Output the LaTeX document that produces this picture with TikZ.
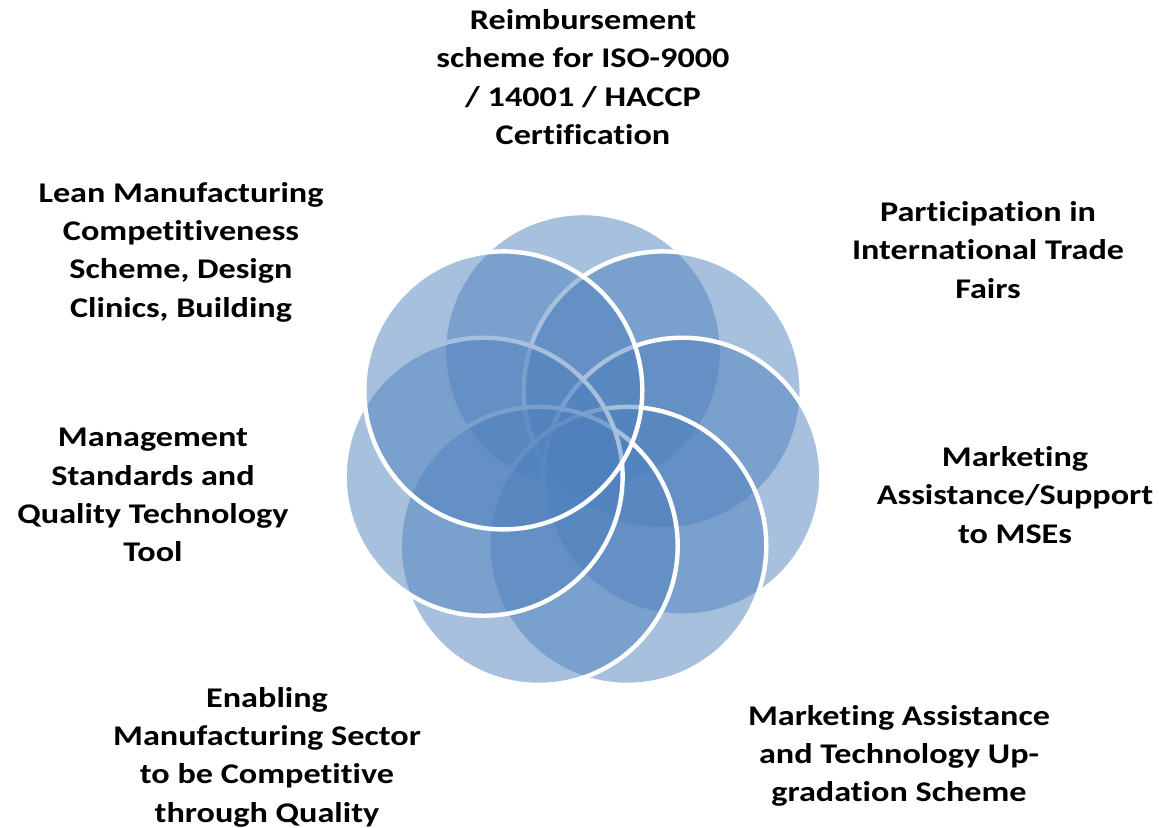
\documentclass[tikz,border=0pt]{standalone}
\usepackage[dvipsnames]{xcolor}
\usepackage{fontspec}
\setmainfont{Carlito}[FakeStretch=1.2, Ligatures=NoCommon]
\definecolor{petalblue}{HTML}{4F81BD}

\begin{document}
\begin{tikzpicture}[x=0.5pt, y=-0.5pt,
  every node/.style={font=\bfseries\fontsize{14.25}{19.15}\selectfont, align=center},
  petal/.style={circle, minimum size=139pt, inner sep=0pt,
    fill=petalblue, fill opacity=0.5, draw=white, line width=2.2pt}]
\useasboundingbox (0,0) rectangle (1159,827);
\node[petal] (A) at (583, 352) {};
\node[petal] (C) at (662.7, 390.4) {};
\node[petal] (D) at (682.4, 476.7) {};
\node[petal] (E) at (627.3, 545.9) {};
\node[petal] (F) at (538.7, 545.9) {};
\node[petal] (G) at (483.6, 476.7) {};
\node[petal] (B) at (503.3, 390.4) {};
\node (LA) at (583, 77) {Reimbursement\\scheme for ISO-9000\\/ 14001 / HACCP\\Certification};
\node (LB) at (181, 252) {Lean Manufacturing\\Competitiveness\\Scheme, Design\\Clinics, Building};
\node (LC) at (988, 250) {Participation in\\International Trade\\Fairs};
\node (LD) at (1015, 495) {Marketing\\Assistance/Support\\to MSEs};
\node (LE) at (899, 756) {Marketing Assistance\\and Technology Up-\\gradation Scheme};
\node (LF) at (267, 757) {Enabling\\Manufacturing Sector\\to be Competitive\\through Quality};
\node (LG) at (153, 495) {Management\\Standards and\\Quality Technology\\Tool};
\end{tikzpicture}
\end{document}
